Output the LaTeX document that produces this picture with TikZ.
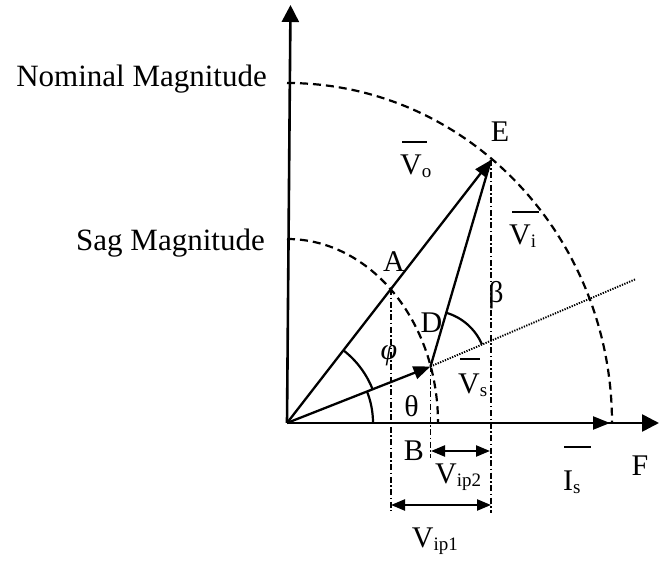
\documentclass[tikz,border=0pt]{standalone}
\usepackage{fontspec}
\setmainfont{Liberation Serif}
\usetikzlibrary{arrows.meta,calc}
\newcommand\sbs[1]{\raisebox{-3pt}{\fontsize{19}{19}\selectfont #1}}
\newcommand\tbar[3]{\rlap{\hspace{#1}\raisebox{#2}{\rule{#3}{1.9pt}}}}
\begin{document}
\begin{tikzpicture}[x=1pt,y=1pt,
  lbl/.style={inner sep=0pt, font=\fontsize{30}{30}\selectfont},
  axlbl/.style={inner sep=0pt, anchor=base east, font=\fontsize{31}{31}\selectfont},
  axisline/.style={line width=2.6pt, -{Triangle[width=17pt,length=17pt]}},
  vec/.style={line width=2.3pt, -{Triangle[width=13pt,length=17pt]}},
  dimarrow/.style={line width=2.3pt, {Triangle[width=11pt,length=14pt]}-{Triangle[width=11pt,length=14pt]}},
  dasharc/.style={line width=2.2pt, dash pattern=on 8pt off 5pt},
  ddot/.style={line width=1.6pt, dash pattern=on 6pt off 2.5pt on 1.5pt off 2.5pt},
  dots/.style={line width=1.9pt, dash pattern=on 1.3pt off 1.3pt},
  anglearc/.style={line width=2.2pt}]
\useasboundingbox (0,0) rectangle (659,-561);
\coordinate (O) at (287,-423);
\coordinate (Ytop) at (290.5,-5);
\coordinate (Xend) at (659,-423);
\coordinate (E) at (491,-160);
\coordinate (D) at (430.5,-366.5);
\coordinate (A) at (390.7,-289.3);
\coordinate (P) at (636,-279);
\coordinate (Is) at (610,-423);
\coordinate (Abot) at (390.7,-511);
\coordinate (Dbot) at (430.5,-458);
\coordinate (Ebot) at (491,-513);
\coordinate (ip1a) at (391,-505);
\coordinate (ip1b) at (491,-505);
\coordinate (ip2a) at (431,-451);
\coordinate (ip2b) at (490,-451);
% dashed magnitude arcs
\draw[dasharc] (287,-83) arc[start angle=90,end angle=0,x radius=325,y radius=340];
\draw[dasharc] (287,-239) arc[start angle=90,end angle=0,x radius=151,y radius=184];
% projection lines
\draw[ddot] (A) -- (Abot);
\draw[ddot] (D) -- (Dbot);
\draw[ddot] (E) -- (Ebot);
\draw[dots] (D) -- (P);
% axes
\draw[axisline] (O) -- (Ytop);
\draw[axisline] (O) -- (Xend);
% vectors
\draw[vec] (O) -- (Is);
\draw[vec] (O) -- (E);
\draw[vec] (O) -- (D);
\draw[line width=2.3pt] (D) -- (E);
% dimension arrows
\draw[dimarrow] (ip1a) -- (ip1b);
\draw[dimarrow] (ip2a) -- (ip2b);
% angle arcs
\draw[anglearc] ($(O)+(86,0)$) arc[start angle=0,end angle=21.5,radius=86];
\draw[anglearc] ($(O)+(21.5:92)$) arc[start angle=21.5,end angle=52.2,radius=92];
\draw[anglearc] ($(D)+(73.9:56)$) arc[start angle=73.9,end angle=23.2,radius=56];
% labels
\node[axlbl] (nom) at (267,-87) {Nominal Magnitude};
\node[axlbl] (sag) at (265,-251) {Sag Magnitude};
\node[lbl,anchor=base] (lE) at (500,-142) {E};
\node[lbl,anchor=base west] (lVo) at (400,-175) {\tbar{2pt}{32pt}{25pt}V\sbs{o}};
\node[lbl,anchor=base west] (lVi) at (509,-245) {\tbar{3pt}{32pt}{27pt}V\sbs{i}};
\node[lbl,anchor=base] (lA) at (394,-272) {A};
\node[lbl,anchor=base] (lD) at (431.5,-333) {D};
\node[lbl,anchor=base] (lbeta) at (496,-303) {β};
\node[lbl] (lphi) at (389,-356) {\itshape φ};
\node[lbl] (ltheta) at (411.5,-406) {θ};
\node[lbl,anchor=base west] (lVs) at (458,-393) {\tbar{2pt}{33pt}{20pt}V\sbs{s}};
\node[lbl,anchor=base] (lB) at (414,-460) {B};
\node[lbl,anchor=base west] (lVip2) at (435,-483) {V\sbs{ip2}};
\node[lbl,anchor=base west] (lIs) at (563,-490) {\tbar{1pt}{42pt}{27pt}I\sbs{s}};
\node[lbl,anchor=base] (lF) at (640,-475) {F};
\node[lbl,anchor=base west] (lVip1) at (411.7,-547) {V\sbs{ip1}};
\end{tikzpicture}
\end{document}
